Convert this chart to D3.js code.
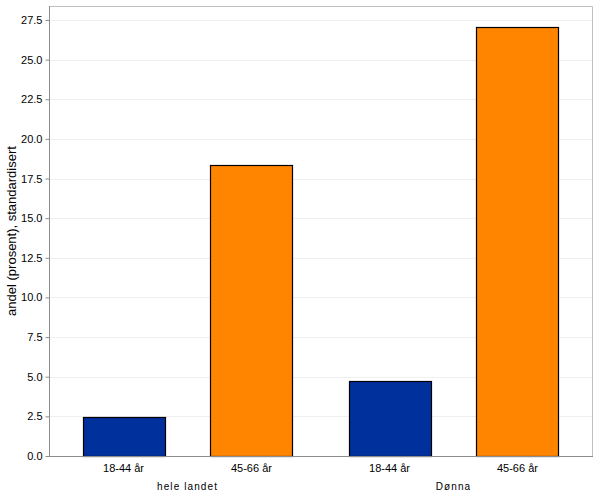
<!DOCTYPE html>
<html><head><meta charset="utf-8">
<script src="https://cdn.jsdelivr.net/npm/d3@7"></script>
<style>body{margin:0;background:#fff}svg{display:block;font-family:"Liberation Sans",Arial,sans-serif}</style>
</head><body><svg id="c" width="600" height="498"></svg>
<script>
const groups = ["hele landet", "Dønna"];
const ages = ["18-44 år", "45-66 år"];
const values = [[2.48, 18.35], [4.74, 27.07]];
const colors = ["#00309c", "#ff8400"];
const yTicks = [0, 2.5, 5, 7.5, 10, 12.5, 15, 17.5, 20, 22.5, 25, 27.5];
const yTitle = "andel (prosent), standardisert";

const svg = d3.select("#c");
const L = 49, R = 592, T = 6, B = 456;
const y = d3.scaleLinear().domain([0, 28.38]).range([B, T]);
const x0 = d3.scaleBand().domain(groups).range([L + 5.5, R - 5.5]);
const x1 = d3.scaleBand().domain(ages).range([0, x0.bandwidth()]).paddingInner(0.359).paddingOuter(0.219);

// grid
svg.append("g").selectAll("line").data(yTicks.slice(1)).join("line")
  .attr("x1", L).attr("x2", R).attr("y1", d => Math.round(y(d)) + 0.5).attr("y2", d => Math.round(y(d)) + 0.5)
  .attr("stroke", "#efefef");
// frame
svg.append("path").attr("d", `M${L},${T + 0.5}H${R + 0.5}V${B}`).attr("fill", "none").attr("stroke", "#c0c0c0");

// bars
const data = [];
groups.forEach((g, i) => ages.forEach((a, j) => data.push({g, a, v: values[i][j], c: colors[j]})));
svg.append("g").selectAll("rect").data(data).join("rect")
  .attr("x", d => Math.round(x0(d.g) + x1(d.a)) + 0.5)
  .attr("width", Math.round(x1.bandwidth()))
  .attr("y", d => Math.round(y(d.v)) + 0.5)
  .attr("height", d => Math.round(B - y(d.v)))
  .attr("fill", d => d.c).attr("stroke", "#000").attr("stroke-width", 1.2);

// y axis
const ya = svg.append("g").attr("transform", `translate(${L + 0.5},0)`)
  .call(d3.axisLeft(y).tickValues(yTicks).tickFormat(d3.format(".1f")).tickSize(4).tickPadding(3));
ya.select(".domain").attr("stroke", "#8c8c8c").attr("d", `M0,${T}V${B + 0.5}`);
ya.selectAll(".tick line").attr("stroke", "#8c8c8c");
ya.selectAll("text").attr("font-size", 11).attr("fill", "#000").attr("font-family", "Liberation Sans, Arial, sans-serif");

// x axis line
svg.append("line").attr("x1", L - 3).attr("x2", R + 1).attr("y1", B + 0.5).attr("y2", B + 0.5).attr("stroke", "#8c8c8c");

// age labels
svg.append("g").selectAll("text").data(data).join("text")
  .attr("x", d => x0(d.g) + x1(d.a) + x1.bandwidth() / 2).attr("y", 472)
  .attr("text-anchor", "middle").attr("font-size", 11).text(d => d.a);
// group labels
svg.append("g").selectAll("text").data(groups).join("text")
  .attr("x", d => x0(d) + x0.bandwidth() / 2).attr("y", 490)
  .attr("text-anchor", "middle").attr("font-size", 10).attr("letter-spacing", 1.1).text(d => d);

svg.append("text").attr("transform", `translate(16,${(T + B) / 2}) rotate(-90)`)
  .attr("text-anchor", "middle").attr("font-size", 13).text(yTitle);
</script></body></html>
